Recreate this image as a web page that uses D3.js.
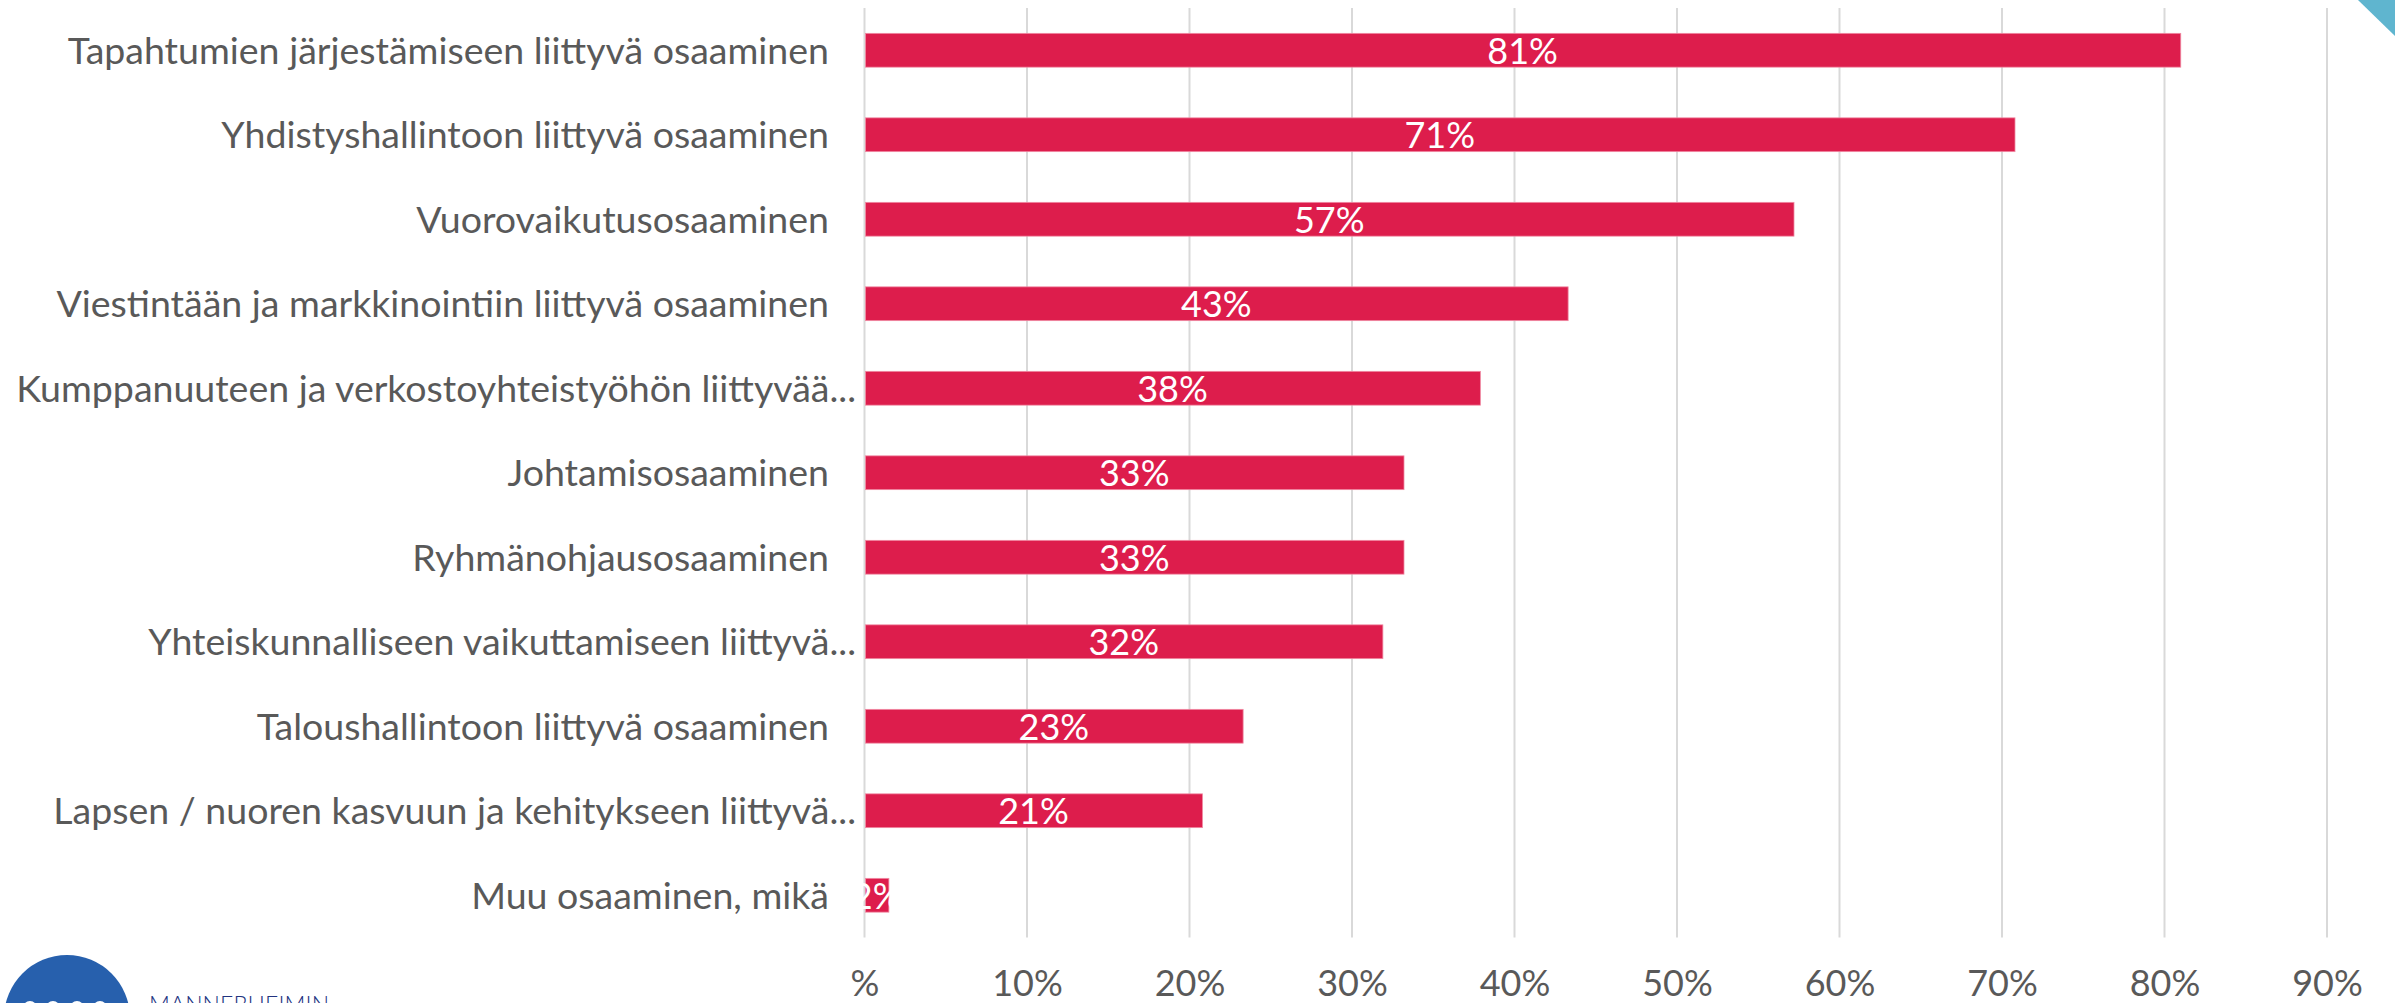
<!DOCTYPE html>
<html>
<head>
<meta charset="utf-8">
<script src="https://cdn.jsdelivr.net/npm/d3@7"></script>
<style>
  html, body { margin: 0; padding: 0; background: #fff; overflow: hidden; }
  svg { display: block; font-family: Lato, "Open Sans", sans-serif; }
</style>
</head>
<body>
<div id="chart"></div>
<script>
// categories, top to bottom
const categories = [
  "Tapahtumien järjestämiseen liittyvä osaaminen",
  "Yhdistyshallintoon liittyvä osaaminen",
  "Vuorovaikutusosaaminen",
  "Viestintään ja markkinointiin liittyvä osaaminen",
  "Kumppanuuteen ja verkostoyhteistyöhön liittyvää...",
  "Johtamisosaaminen",
  "Ryhmänohjausosaaminen",
  "Yhteiskunnalliseen vaikuttamiseen liittyvä...",
  "Taloushallintoon liittyvä osaaminen",
  "Lapsen / nuoren kasvuun ja kehitykseen liittyvä...",
  "Muu osaaminen, mikä"
];

// share of respondents (fraction)
const values = [0.81, 0.708, 0.572, 0.433, 0.379, 0.332, 0.332, 0.319, 0.233, 0.208, 0.015];
const valueLabels = ["81%", "71%", "57%", "43%", "38%", "33%", "33%", "32%", "23%", "21%", "2%"];

const tickValues = [0, 0.1, 0.2, 0.3, 0.4, 0.5, 0.6, 0.7, 0.8, 0.9];
const tickLabels = ["%", "10%", "20%", "30%", "40%", "50%", "60%", "70%", "80%", "90%"];

const width = 2395;
const height = 1003;

const svg = d3.select("#chart")
  .append("svg")
  .attr("width", width)
  .attr("height", height)
  .attr("viewBox", `0 0 ${width} ${height}`);

const x = d3.scaleLinear()
  .domain([0, 0.9])
  .range([864.5, 2327]);

const y = d3.scaleBand()
  .domain(categories)
  .range([8, 937.5])
  .paddingInner(0.6)
  .paddingOuter(0.3);

// gridlines
svg.append("g")
  .selectAll("line")
  .data(tickValues)
  .join("line")
    .attr("x1", d => x(d))
    .attr("x2", d => x(d))
    .attr("y1", 8)
    .attr("y2", 937.5)
    .attr("stroke", "#d9d9d9")
    .attr("stroke-width", 2);

// bars
svg.append("g")
  .selectAll("rect")
  .data(values)
  .join("rect")
    .attr("x", x(0) + 1)
    .attr("y", (d, i) => y(categories[i]))
    .attr("width", d => x(d) - x(0) - 1)
    .attr("height", y.bandwidth())
    .attr("fill", "#dd1d4c")
    .attr("stroke", "#f08aa3")
    .attr("stroke-width", 0.8);

// value labels centred in the bars
svg.append("g")
  .selectAll("text")
  .data(values)
  .join("text")
    .attr("x", d => (x(0) + x(d)) / 2)
    .attr("y", (d, i) => y(categories[i]) + y.bandwidth() / 2)
    .attr("dy", "0.37em")
    .attr("text-anchor", "middle")
    .attr("fill", "#fff")
    .style("font-size", "36px")
    .text((d, i) => valueLabels[i]);

// category labels (truncated ones sit closer to the axis, like Excel does)
svg.append("g")
  .selectAll("text")
  .data(categories)
  .join("text")
    .attr("x", d => d.endsWith("...") ? 856 : 829)
    .attr("y", d => y(d) + y.bandwidth() / 2)
    .attr("dy", "0.36em")
    .attr("text-anchor", "end")
    .attr("fill", "#595959")
    .style("font-size", "37.5px")
    .text(d => d);

// x axis labels
const xAxis = svg.append("g")
  .attr("transform", "translate(0, 996)")
  .call(d3.axisBottom(x).tickValues(tickValues).tickFormat((d, i) => tickLabels[i]).tickSize(0).tickPadding(0));
xAxis.select(".domain").remove();
xAxis.selectAll("text")
  .attr("y", 0)
  .attr("dy", 0)
  .attr("fill", "#595959")
  .style("font-family", "Lato, sans-serif")
  .style("font-size", "36px");

// slide decoration: teal corner
svg.append("path")
  .attr("d", "M2358,0 L2395,0 L2395,36 Z")
  .attr("fill", "#5fb5cf");

// slide decoration: logo at bottom left
const logo = svg.append("g");
logo.append("circle")
  .attr("cx", 67)
  .attr("cy", 1018)
  .attr("r", 63)
  .attr("fill", "#2760ad");
logo.selectAll("circle.dot")
  .data([30, 53, 77, 100])
  .join("circle")
    .attr("class", "dot")
    .attr("cx", d => d)
    .attr("cy", 1008)
    .attr("r", 7)
    .attr("fill", "#fff");
logo.append("text")
  .attr("x", 149)
  .attr("y", 1013)
  .attr("fill", "#22337f")
  .attr("textLength", 180)
  .attr("lengthAdjust", "spacing")
  .style("font-size", "23px")
  .style("font-weight", 300)
  .text("MANNERHEIMIN");
</script>
</body>
</html>
